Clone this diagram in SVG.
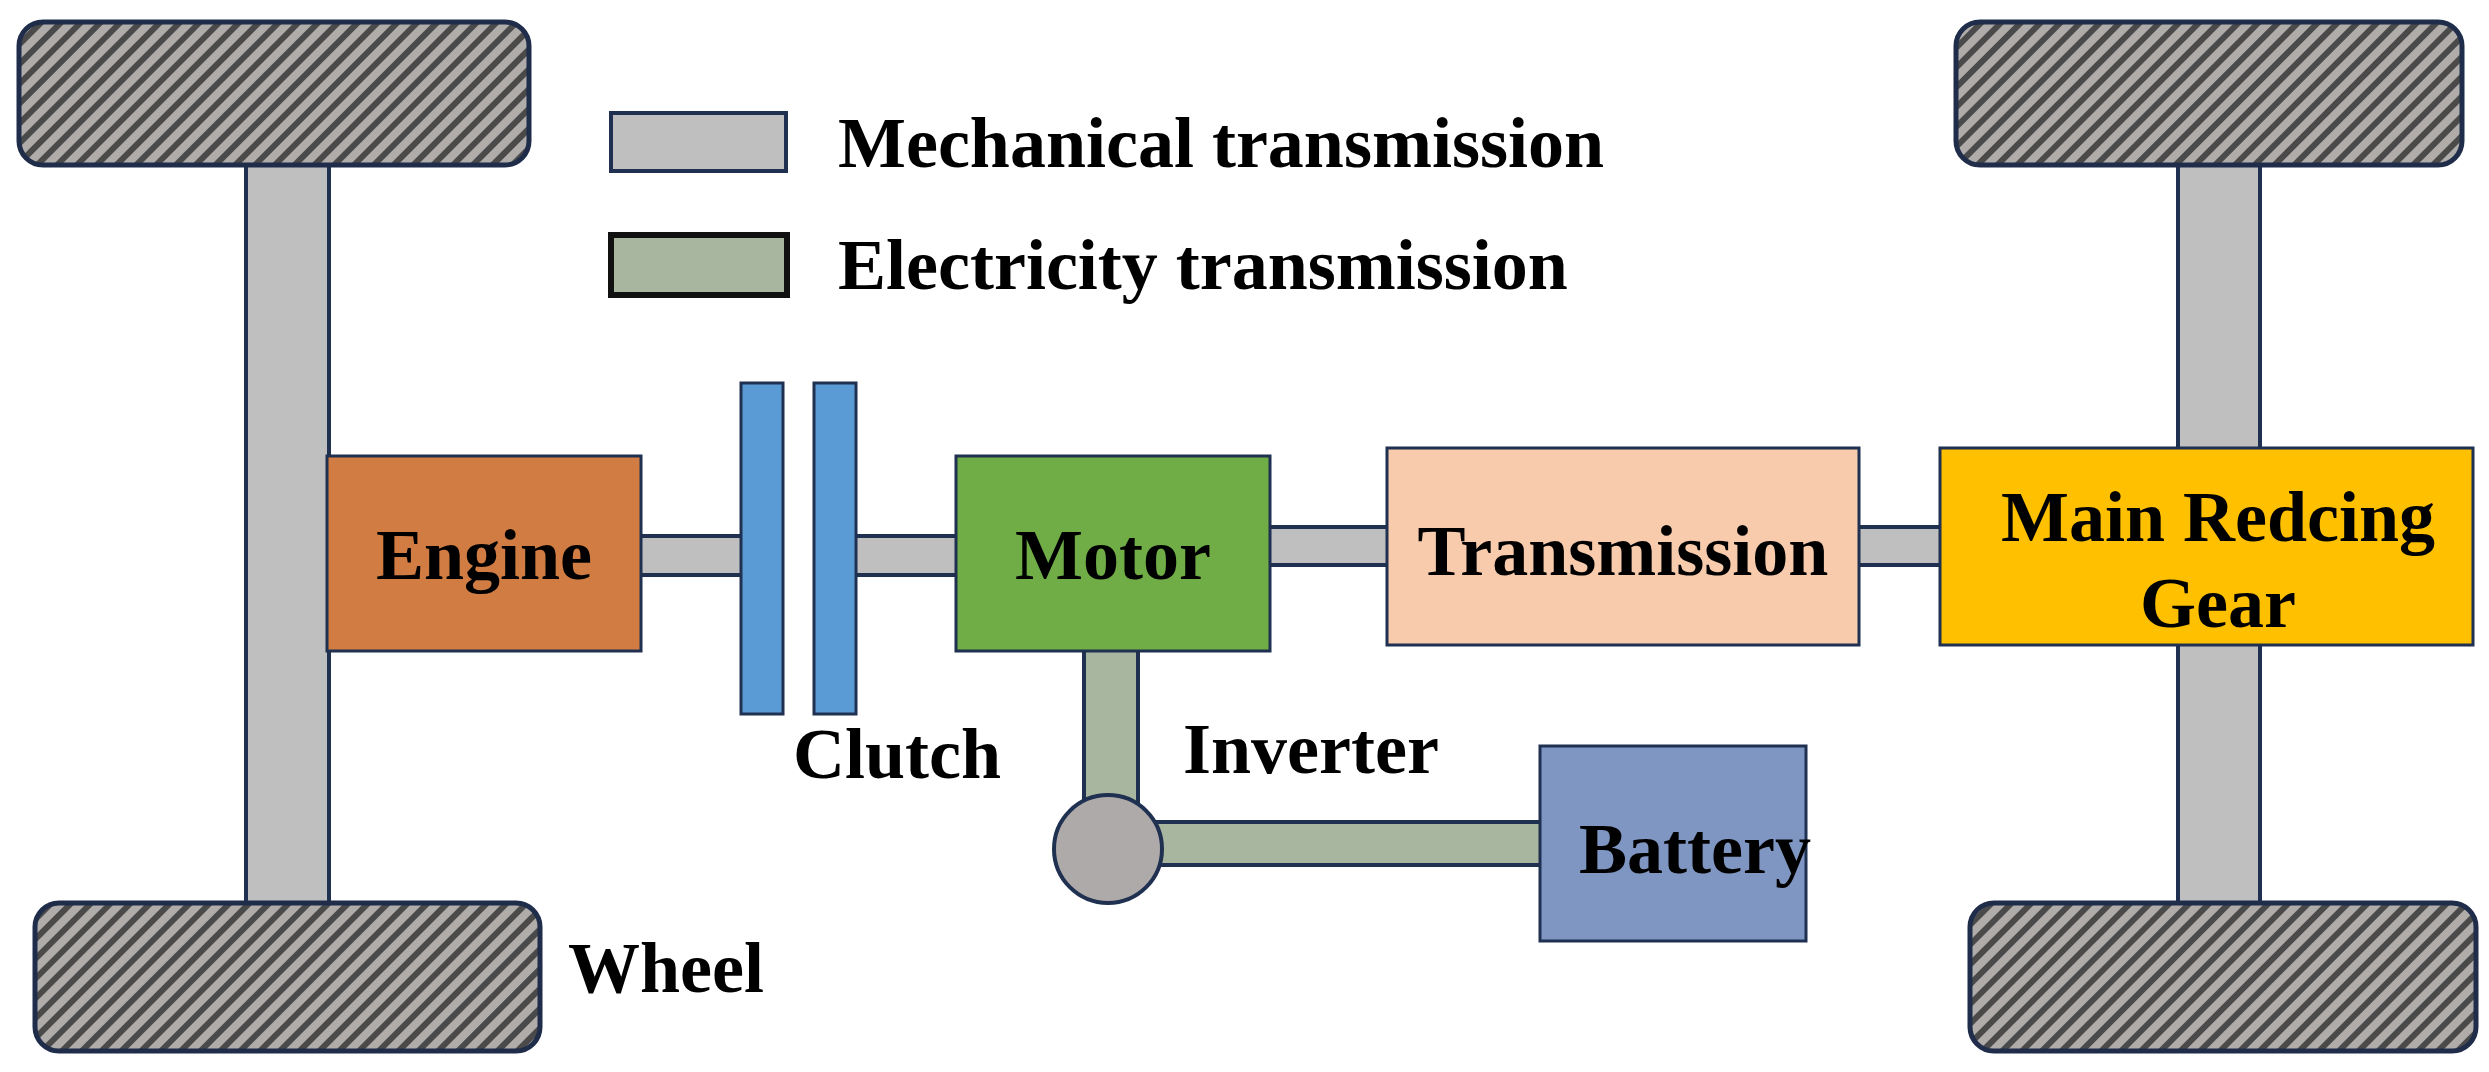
<svg xmlns="http://www.w3.org/2000/svg" width="2489" height="1072" viewBox="0 0 2489 1072">
<defs>
<pattern id="hatch" patternUnits="userSpaceOnUse" width="14" height="14" patternTransform="rotate(45)">
<rect width="14" height="14" fill="#b0acaa"/>
<rect width="6" height="14" fill="#4a4a4a"/>
</pattern>
<style>
.wheel{fill:url(#hatch);stroke:#1f2d4a;stroke-width:5}
.mech{fill:#bfbfbf;stroke:#1f3050;stroke-width:4}
.elec{fill:#a8b59f;stroke:#1f3050;stroke-width:4}
.box{stroke:#1f3050;stroke-width:3}
text{font-family:"Liberation Serif","Times New Roman",serif;font-weight:bold;fill:#000;font-size:72px}
.c{text-anchor:middle}
</style>
</defs>
<rect width="2489" height="1072" fill="#fff"/>
<g id="connectors">
<rect class="mech" x="246" y="160" width="83" height="750"/>
<rect class="mech" x="2178" y="160" width="82" height="295"/>
<rect class="mech" x="2178" y="640" width="82" height="270"/>
<rect class="mech" x="639" y="536" width="104" height="39"/>
<rect class="mech" x="854" y="536" width="104" height="39"/>
<rect class="mech" x="1268" y="527" width="121" height="38"/>
<rect class="mech" x="1857" y="527" width="85" height="38"/>
<rect class="elec" x="1084" y="649" width="54" height="200"/>
<rect class="elec" x="1140" y="822" width="402" height="43"/>
</g>
<g id="wheel-tl"><rect class="wheel" x="19" y="22" width="510" height="143" rx="24"/></g>
<g id="wheel-bl"><rect class="wheel" x="35" y="903" width="505" height="148" rx="24"/></g>
<g id="wheel-tr"><rect class="wheel" x="1956" y="22" width="506" height="143" rx="24"/></g>
<g id="wheel-br"><rect class="wheel" x="1970" y="903" width="506" height="148" rx="24"/></g>
<g id="legend">
<rect x="611" y="113" width="175" height="58" fill="#bfbfbf" stroke="#1f3050" stroke-width="4"/>
<text x="838" y="167">Mechanical transmission</text>
<rect x="611" y="235" width="176" height="60" fill="#a8b59f" stroke="#111" stroke-width="6"/>
<text x="838" y="289">Electricity transmission</text>
</g>
<g id="engine"><rect class="box" x="327" y="456" width="314" height="195" fill="#d17c43"/><text class="c" x="484" y="579">Engine</text></g>
<g id="clutch">
<rect class="box" x="741" y="383" width="42" height="331" fill="#5b9bd5"/>
<rect class="box" x="814" y="383" width="42" height="331" fill="#5b9bd5"/>
<text class="c" x="897" y="778">Clutch</text>
</g>
<g id="motor"><rect class="box" x="956" y="456" width="314" height="195" fill="#70ad47"/><text class="c" x="1113" y="579">Motor</text></g>
<g id="transmission"><rect class="box" x="1387" y="448" width="472" height="197" fill="#f8cbad"/><text class="c" x="1623" y="575">Transmission</text></g>
<g id="main-gear"><rect class="box" x="1940" y="448" width="533" height="197" fill="#ffc000"/><text class="c" x="2218" y="541">Main Redcing</text><text class="c" x="2218" y="627">Gear</text></g>
<g id="inverter"><circle cx="1108" cy="849" r="54" fill="#aeaaaa" stroke="#1f3050" stroke-width="4"/><text x="1183" y="773">Inverter</text></g>
<g id="battery"><rect class="box" x="1540" y="746" width="266" height="195" fill="#7f96c2"/><text class="c" x="1695" y="873">Battery</text></g>
<g id="wheel-label"><text x="568" y="992">Wheel</text></g>
</svg>
